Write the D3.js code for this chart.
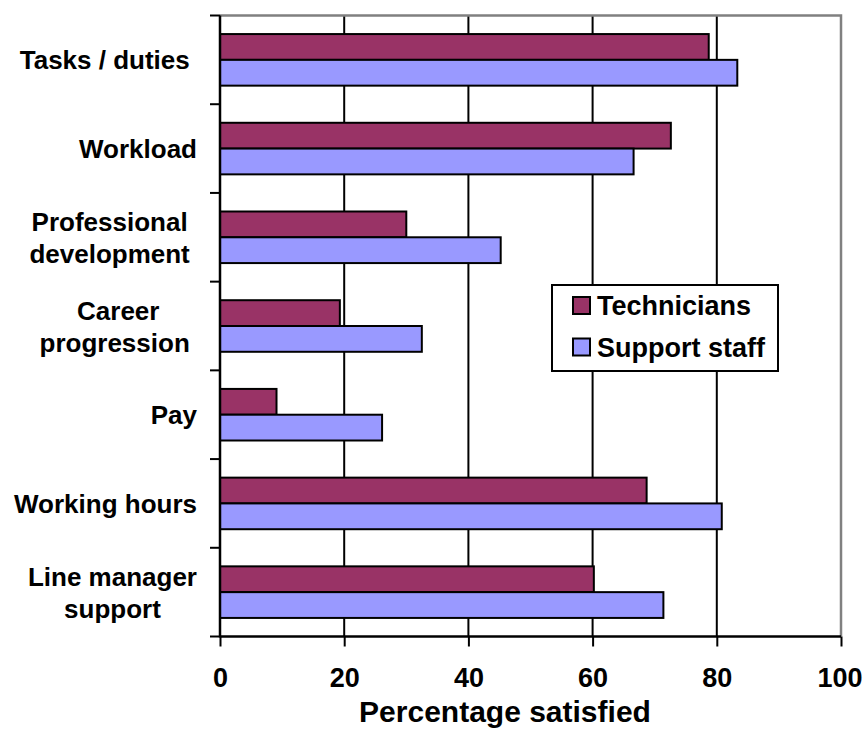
<!DOCTYPE html>
<html>
<head>
<meta charset="utf-8">
<script src="https://cdn.jsdelivr.net/npm/d3@7"></script>
<style>
  html, body { margin: 0; padding: 0; background: #fff; }
  svg text { font-family: "Liberation Sans", Arial, sans-serif; font-weight: bold; fill: #000; }
</style>
</head>
<body>
<svg id="chart" width="866" height="731"></svg>
<script>
// ---- data ----
const categories = ["Tasks / duties", "Workload", "Professional development", "Career progression", "Pay", "Working hours", "Line manager support"];
const categoryLines = [["Tasks / duties "], ["Workload"], ["Professional ", "development "], ["Career", "progression "], ["Pay"], ["Working hours"], ["Line manager", "support"]];
const seriesNames = ["Technicians", "Support staff"];
const technicians = [78.7, 72.6, 30.0, 19.3, 9.1, 68.7, 60.2];
const supportStaff = [83.3, 66.6, 45.2, 32.5, 26.1, 80.8, 71.4];
const xTicks = [0, 20, 40, 60, 80, 100];
const xTitle = "Percentage satisfied";

// ---- layout ----
const pLeft = 220, pRight = 841, pTop = 15.5, pBottom = 636.5;
const colors = ["#993366", "#9999FF"];

const svg = d3.select("#chart");
const x = d3.scaleLinear().domain([0, 100]).range([pLeft, pRight]);
const y = d3.scaleBand().domain(categories).range([pTop, pBottom]).padding(0);
const ySub = d3.scaleBand().domain(seriesNames).range([0, y.bandwidth()]).paddingInner(0).paddingOuter(0.72);

// gridlines
svg.append("g").selectAll("line").data(xTicks.filter(d => d > 0 && d < 100)).join("line")
  .attr("x1", d => x(d)).attr("x2", d => x(d)).attr("y1", pTop).attr("y2", pBottom)
  .attr("stroke", "#000").attr("stroke-width", 2);

// plot border (top/right gray)
svg.append("path").attr("d", `M${pLeft},${pTop}H${pRight}V${pBottom}`).attr("fill", "none")
  .attr("stroke", "#808080").attr("stroke-width", 2.5);

// bars
const rows = categories.map((c, i) => ({ c, vals: [technicians[i], supportStaff[i]] }));
const g = svg.append("g");
rows.forEach(r => {
  r.vals.forEach((v, k) => {
    g.append("rect")
      .attr("x", x(0))
      .attr("y", y(r.c) + ySub(seriesNames[k]))
      .attr("width", x(v) - x(0))
      .attr("height", ySub.bandwidth())
      .attr("fill", colors[k])
      .attr("stroke", "#000").attr("stroke-width", 2);
  });
});

// x axis
const xAxis = d3.axisBottom(x).tickValues(xTicks).tickSize(10).tickFormat(d3.format("d"));
const xa = svg.append("g").attr("transform", `translate(0,${pBottom})`).call(xAxis);
xa.select(".domain").attr("stroke", "#000").attr("stroke-width", 2.5).attr("d", `M${pLeft},0H${pRight}`);
xa.selectAll(".tick line").attr("stroke", "#000").attr("stroke-width", 2);
xa.selectAll(".tick text").attr("y", 50).attr("dy", 0)
  .style("font-size", "27px").style("font-family", "'Liberation Sans', Arial, sans-serif").style("font-weight", "bold")
  .each(function(d) {
    // keep the last label inside the picture
    const w = this.getComputedTextLength();
    const maxRight = 862 - x(d);
    if (w / 2 > maxRight) d3.select(this).attr("x", maxRight - w / 2);
  });

// y axis (ticks at band boundaries)
const boundaries = categories.map(c => y(c)).concat([pBottom]);
svg.append("line").attr("x1", pLeft).attr("x2", pLeft).attr("y1", pTop).attr("y2", pBottom + 1)
  .attr("stroke", "#000").attr("stroke-width", 2.5);
svg.append("g").selectAll("line").data(boundaries).join("line")
  .attr("x1", pLeft - 10).attr("x2", pLeft).attr("y1", d => d).attr("y2", d => d)
  .attr("stroke", "#000").attr("stroke-width", 2);

// category labels
const labelRight = 197;
const lineH = 32;
const lg = svg.append("g");
categories.forEach((c, i) => {
  const lines = categoryLines[i];
  const cy = y(c) + y.bandwidth() / 2;
  const t = lg.append("text").style("font-size", "26px").attr("xml:space", "preserve").style("white-space", "pre");
  const tspans = lines.map((ln, j) => t.append("tspan").text(ln));
  const widths = tspans.map(ts => ts.node().getComputedTextLength());
  const maxW = d3.max(widths);
  const cx = labelRight - maxW / 2;
  tspans.forEach((ts, j) => {
    ts.attr("x", cx).attr("text-anchor", "middle")
      .attr("y", cy + (j - (lines.length - 1) / 2) * lineH + 9.5);
  });
});

// x title
svg.append("text").attr("x", 505).attr("y", 722).attr("text-anchor", "middle")
  .style("font-size", "30px").text(xTitle);

// legend
const leg = svg.append("g");
leg.append("rect").attr("x", 552).attr("y", 285).attr("width", 226).attr("height", 86)
  .attr("fill", "#fff").attr("stroke", "#000").attr("stroke-width", 2);
seriesNames.forEach((s, k) => {
  const yy = 297 + k * 41.5;
  leg.append("rect").attr("x", 573).attr("y", yy).attr("width", 17).attr("height", 17)
    .attr("fill", colors[k]).attr("stroke", "#000").attr("stroke-width", 2);
  leg.append("text").attr("x", 597).attr("y", yy + 18).style("font-size", "27px").text(s);
});
</script>
</body>
</html>
